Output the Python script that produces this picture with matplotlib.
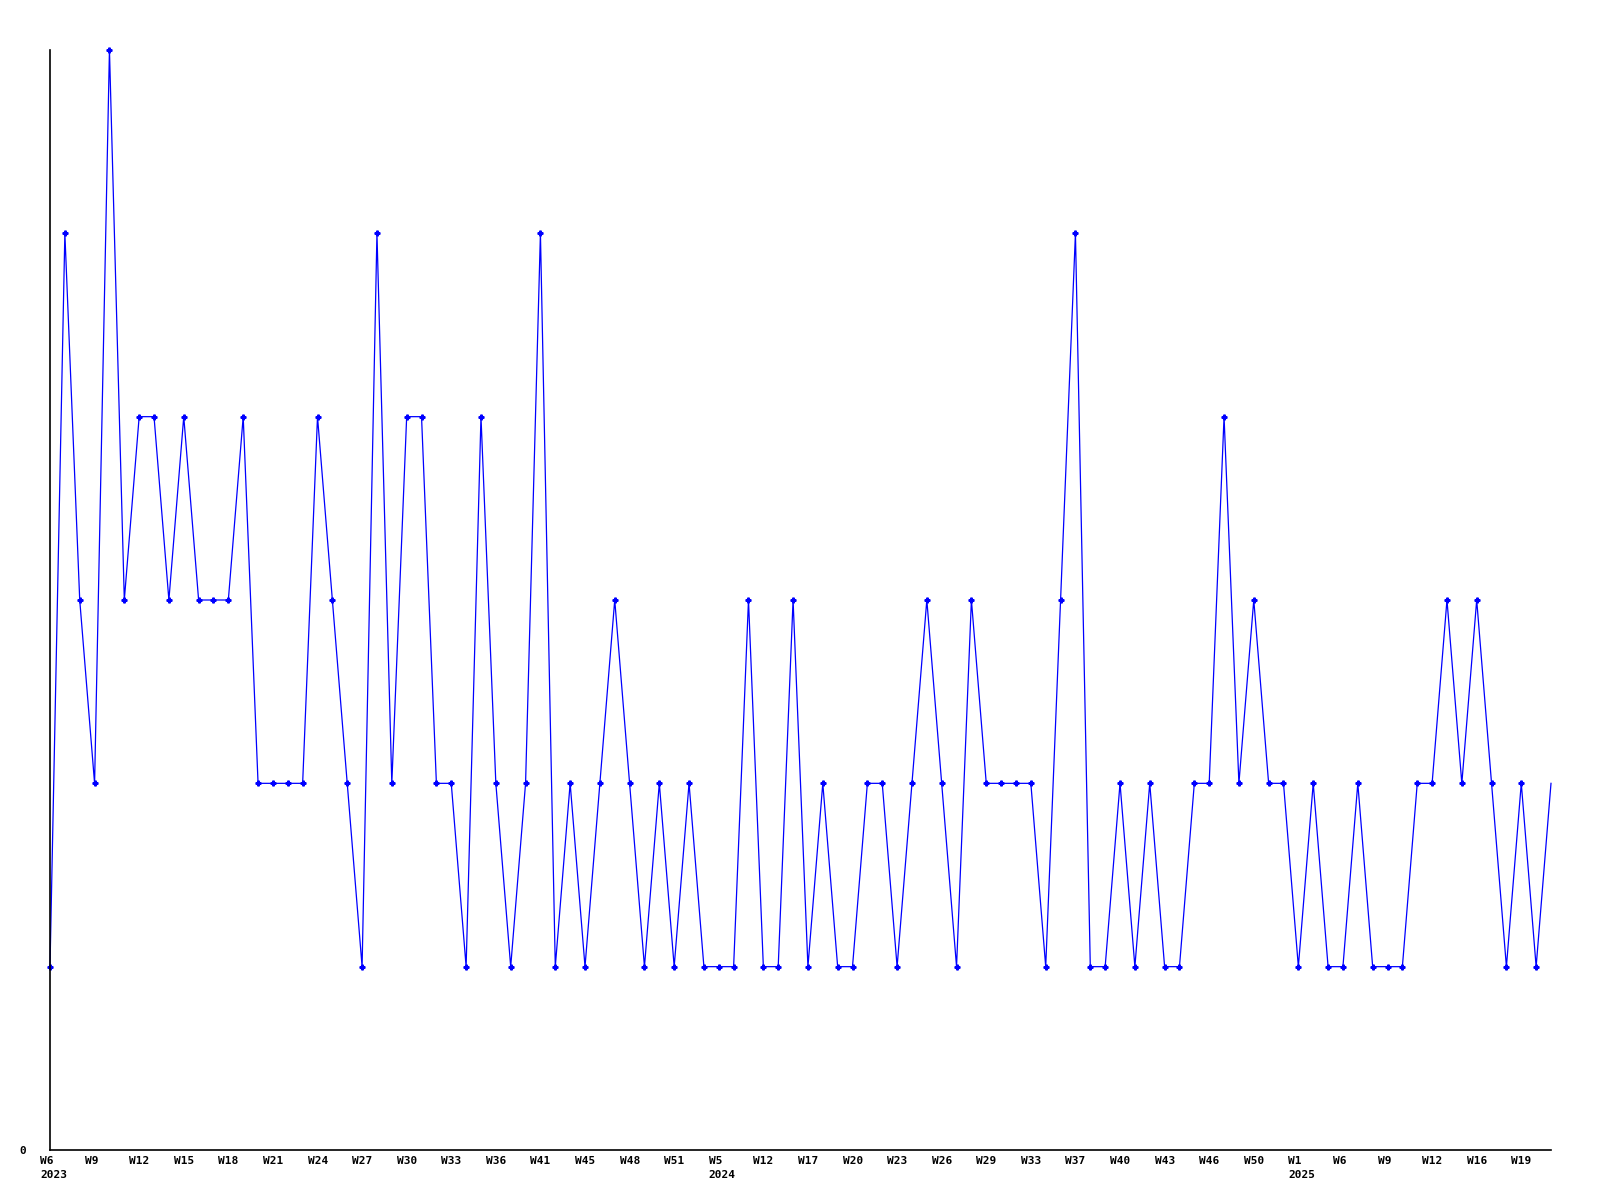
import matplotlib
matplotlib.use("Agg")
import matplotlib.pyplot as plt
import matplotlib.transforms as mtransforms

# weekly counts, one point per sampled week
values = [1, 5, 3, 2, 6, 3, 4, 4, 3, 4, 3, 3, 3, 4, 2, 2, 2, 2, 4, 3,
          2, 1, 5, 2, 4, 4, 2, 2, 1, 4, 2, 1, 2, 5, 1, 2, 1, 2, 3, 2,
          1, 2, 1, 2, 1, 1, 1, 3, 1, 1, 3, 1, 2, 1, 1, 2, 2, 1, 2, 3,
          2, 1, 3, 2, 2, 2, 2, 1, 3, 5, 1, 1, 2, 1, 2, 1, 1, 2, 2, 4,
          2, 3, 2, 2, 1, 2, 1, 1, 2, 1, 1, 1, 2, 2, 3, 2, 3, 2, 1, 2,
          1, 2]

# x labels, one every 3rd point
tick_labels = ["W6\n2023", "W9", "W12", "W15", "W18", "W21", "W24", "W27",
               "W30", "W33", "W36", "W41", "W45", "W48", "W51", "W5\n2024",
               "W12", "W17", "W20", "W23", "W26", "W29", "W33", "W37",
               "W40", "W43", "W46", "W50", "W1\n2025", "W6", "W9", "W12",
               "W16", "W19"]
tick_step = 3

fig = plt.figure(figsize=(16, 12), dpi=100)
ax = fig.add_axes([50/1600, 50/1200, 1501/1600, 1100/1200])

x = list(range(len(values)))
ax.plot(x, values, color="#0000ff", lw=0.9, marker="P", ms=3.5,
        mec="#0000ff", mfc="#0000ff", markevery=list(range(len(values) - 1)),
        clip_on=False)

ax.set_xlim(0, len(values) - 1)
ax.set_ylim(0, 6)

for s in ["top", "right"]:
    ax.spines[s].set_visible(False)
for s in ["left", "bottom"]:
    ax.spines[s].set_linewidth(1.2)
    ax.spines[s].set_color("black")

mono = dict(family="DejaVu Sans Mono", weight="bold", size=8)

ax.set_yticks([0])
ax.set_yticklabels(["0"], **mono)
ax.tick_params(axis="y", length=0, pad=17)

ax.set_xticks(list(range(0, len(values), tick_step))[:len(tick_labels)])
ax.set_xticklabels(tick_labels, ha="left", multialignment="left",
                   linespacing=1.55, **mono)
ax.tick_params(axis="x", length=0, pad=4)
offset = mtransforms.ScaledTranslation(-10/100, 0, fig.dpi_scale_trans)
for lbl in ax.get_xticklabels():
    lbl.set_transform(lbl.get_transform() + offset)

fig.savefig("out.png", dpi=100)
